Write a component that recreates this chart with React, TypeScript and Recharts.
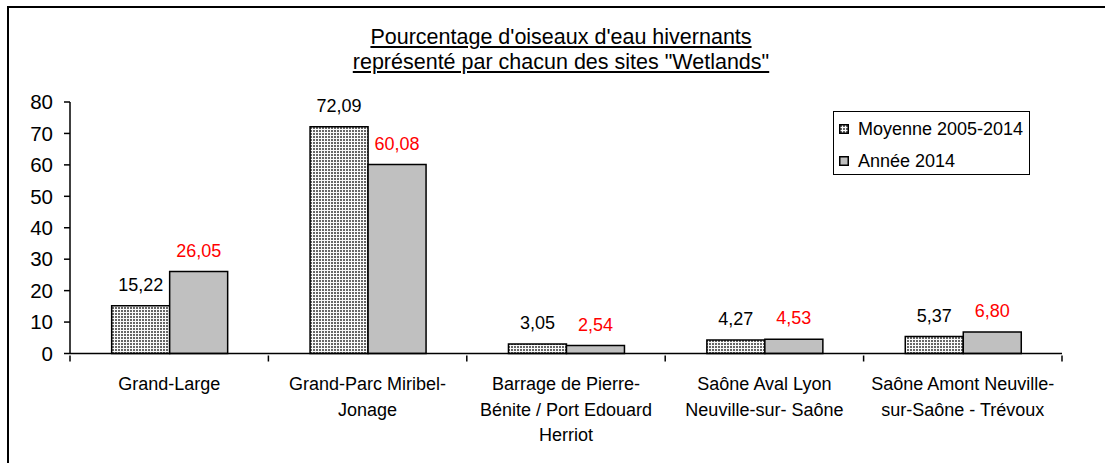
import React from 'react';
import { BarChart, Bar, XAxis, YAxis, Legend, LabelList } from 'recharts';

// Sites (line breaks as they wrap under the axis)
const sites = [
  'Grand-Large',
  'Grand-Parc Miribel-\nJonage',
  'Barrage de Pierre-\nBénite / Port Edouard\nHerriot',
  'Saône Aval Lyon\nNeuville-sur- Saône',
  'Saône Amont Neuville-\nsur-Saône - Trévoux',
];
const moyenne = [15.22, 72.09, 3.05, 4.27, 5.37];
const annee2014 = [26.05, 60.08, 2.54, 4.53, 6.8];
const yTicks = [0, 10, 20, 30, 40, 50, 60, 70, 80];
const seriesNames = ['Moyenne 2005-2014', 'Année 2014'];
const titleLines = ["Pourcentage d'oiseaux d'eau hivernants", 'représenté par chacun des sites "Wetlands"'];

const data = sites.map((site, i) => ({ site, moyenne: moyenne[i], annee: annee2014[i] }));

const FONT = '"Liberation Sans", Arial, sans-serif';
const W = 1105;
const H = 463;
const margin = { top: 102, right: 43, bottom: 9.5, left: 0 };
const Y_W = 70;
const X_H = 100;
const band = (W - margin.left - margin.right - Y_W) / sites.length;

const fmt = (v: any) => Number(v).toFixed(2).replace('.', ',');

const CategoryTick = (props: any) => {
  const { x, y, payload, index } = props;
  const lines = String(payload.value).split('\n');
  return (
    <g>
      <line x1={x - band / 2} x2={x - band / 2} y1={y} y2={y + 6} stroke="#000" strokeWidth={1.5} />
      {index === sites.length - 1 && (
        <line x1={x + band / 2} x2={x + band / 2} y1={y} y2={y + 6} stroke="#000" strokeWidth={1.5} />
      )}
      <text textAnchor="middle" fontSize={18} fontFamily={FONT} fill="#000">
        {lines.map((l, i) => (
          <tspan key={i} x={x} y={y + 34.5 + i * 25.5}>{l}</tspan>
        ))}
      </text>
    </g>
  );
};

const Swatch = ({ fill }: { fill: string }) => (
  <svg width={10} height={10} style={{ marginRight: 9, flex: 'none' }}>
    <rect x={0.75} y={0.75} width={8.5} height={8.5} fill={fill} stroke="#000" strokeWidth={1.5} />
  </svg>
);

const LegendBox = () => (
  <div
    style={{
      width: 195,
      height: 62,
      border: '1.5px solid #000',
      background: '#fff',
      fontFamily: FONT,
      fontSize: 18,
      color: '#000',
      boxSizing: 'content-box',
    }}
  >
    <div style={{ display: 'flex', alignItems: 'center', height: 22, marginTop: 6, paddingLeft: 5 }}>
      <Swatch fill="url(#dots)" />
      {seriesNames[0]}
    </div>
    <div style={{ display: 'flex', alignItems: 'center', height: 22, marginTop: 10, paddingLeft: 5 }}>
      <Swatch fill="#c0c0c0" />
      {seriesNames[1]}
    </div>
  </div>
);

export default function App() {
  return (
    <div style={{ position: 'absolute', left: 0, top: 0, width: W, height: H, overflow: 'hidden', background: '#fff' }}>
      {/* outer frame, runs off the right and bottom edges */}
      <div style={{ position: 'absolute', left: 7, top: 6, width: 1200, height: 600, border: '2px solid #000' }} />

      <div
        style={{
          position: 'absolute',
          left: 0,
          top: 25,
          width: 1122,
          textAlign: 'center',
          fontFamily: FONT,
          fontSize: 21.5,
          lineHeight: '25px',
          textDecoration: 'underline',
          color: '#000',
        }}
      >
        {titleLines.map((t) => (
          <div key={t}>{t}</div>
        ))}
      </div>

      <div style={{ position: 'absolute', left: 0, top: 0 }}>
        <BarChart width={W} height={H} data={data} margin={margin} barCategoryGap="21%" barGap={0}>
          <defs>
            <pattern id="dots" width={3} height={3} patternUnits="userSpaceOnUse">
              <rect width={3} height={3} fill="#fafafa" />
              <rect x={1} y={1} width={2} height={2} fill="#666" />
            </pattern>
          </defs>
          <YAxis
            width={Y_W}
            domain={[0, 80]}
            ticks={yTicks}
            interval={0}
            tickSize={6}
            tickMargin={11}
            axisLine={{ stroke: '#000', strokeWidth: 1.5 }}
            tickLine={{ stroke: '#000', strokeWidth: 1.5 }}
            tick={{ fontSize: 20.5, fill: '#000', fontFamily: FONT }}
          />
          <XAxis
            dataKey="site"
            height={X_H}
            interval={0}
            tickSize={0}
            tickLine={false}
            axisLine={{ stroke: '#000', strokeWidth: 1.5 }}
            tick={<CategoryTick />}
          />
          <Legend
            layout="vertical"
            align="center"
            verticalAlign="middle"
            wrapperStyle={{ left: 833, top: 111, width: 'auto' }}
            content={() => <LegendBox />}
          />
          <Bar dataKey="moyenne" name={seriesNames[0]} fill="url(#dots)" stroke="#000" strokeWidth={1.5} isAnimationActive={false}>
            <LabelList dataKey="moyenne" position="top" offset={15} formatter={fmt} fill="#000" fontSize={18} fontFamily={FONT} />
          </Bar>
          <Bar dataKey="annee" name={seriesNames[1]} fill="#c0c0c0" stroke="#000" strokeWidth={1.5} isAnimationActive={false}>
            <LabelList dataKey="annee" position="top" offset={15} formatter={fmt} fill="#ff0000" fontSize={18} fontFamily={FONT} />
          </Bar>
        </BarChart>
      </div>
    </div>
  );
}
